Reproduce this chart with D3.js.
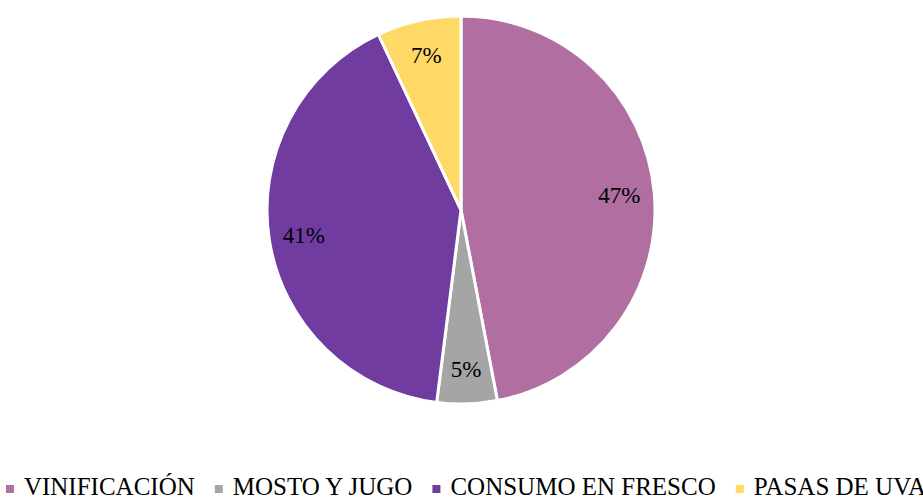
<!DOCTYPE html>
<html>
<head>
<meta charset="utf-8">
<script src="https://cdn.jsdelivr.net/npm/d3@7"></script>
<style>
  html, body { margin: 0; padding: 0; background: #fff; }
  svg { display: block; }
</style>
</head>
<body>
<svg id="chart" width="923" height="498"></svg>
<script>
const categories = ["VINIFICACIÓN", "MOSTO Y JUGO", "CONSUMO EN FRESCO", "PASAS DE UVA"];
const values = [47, 5, 41, 7];
const colors = ["#B06FA0", "#A5A5A5", "#703CA0", "#FFD966"];

const W = 923, H = 498;
const cx = 461, cy = 210, R = 194;
const svg = d3.select("#chart");
const fontFamily = "Liberation Serif";

const data = categories.map((c, i) => ({ cat: c, value: values[i], color: colors[i] }));
const pie = d3.pie().value(d => d.value).sort(null);
const arcs = pie(data);
const arc = d3.arc().innerRadius(0).outerRadius(R);
const labelArc = d3.arc().innerRadius(R * 0.82).outerRadius(R * 0.82);

const g = svg.append("g").attr("transform", `translate(${cx},${cy})`);
g.selectAll("path.slice").data(arcs).join("path")
  .attr("class", "slice")
  .attr("d", arc)
  .attr("fill", d => d.data.color)
  .attr("stroke", "#fff")
  .attr("stroke-width", 3)
  .attr("stroke-linejoin", "round");

g.selectAll("text.lbl").data(arcs).join("text")
  .attr("class", "lbl")
  .attr("transform", d => `translate(${labelArc.centroid(d)})`)
  .attr("text-anchor", "middle")
  .attr("dy", "0.35em")
  .attr("font-family", fontFamily)
  .attr("font-size", 23)
  .attr("fill", "#000")
  .text(d => d.data.value + "%");

// Legend
const legend = svg.append("g");
const items = legend.selectAll("g.item").data(data).join("g").attr("class", "item");
items.append("rect")
  .attr("width", 8).attr("height", 8)
  .attr("y", -10)
  .attr("fill", d => d.color);
items.append("text")
  .attr("x", 18)
  .attr("font-family", fontFamily)
  .attr("font-size", 25)
  .attr("fill", "#000")
  .text(d => d.cat);

const gapItem = 20;
let widths = [];
items.each(function() {
  const t = d3.select(this).select("text").node();
  widths.push(18 + t.getComputedTextLength());
});
const total = d3.sum(widths) + gapItem * (widths.length - 1);
let x = 466 - total / 2;
items.each(function(d, i) {
  d3.select(this).attr("transform", `translate(${x},495)`);
  x += widths[i] + gapItem;
});
</script>
</body>
</html>
